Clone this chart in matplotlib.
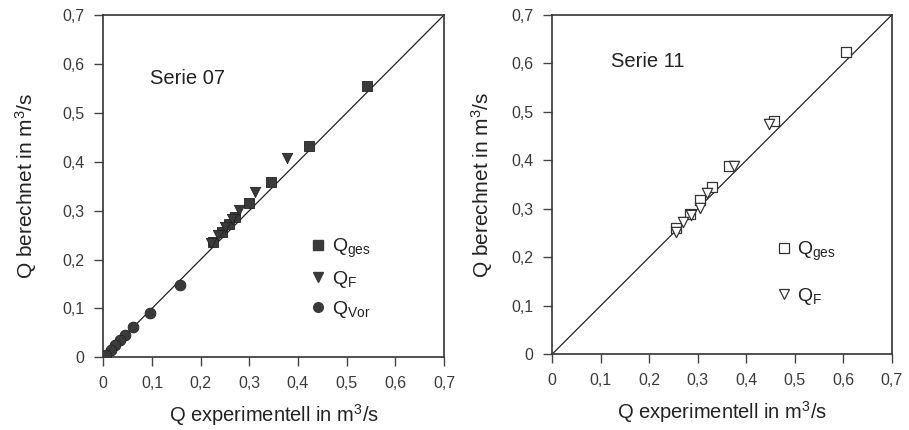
import matplotlib
matplotlib.use("Agg")
import matplotlib.pyplot as plt
from matplotlib.lines import Line2D

plt.rcParams['font.family'] = ['Liberation Sans', 'DejaVu Sans']
plt.rcParams['mathtext.fontset'] = 'custom'
plt.rcParams['mathtext.rm'] = 'Liberation Sans'
plt.rcParams['mathtext.it'] = 'Liberation Sans'

# ---- Serie 07 ----
s07_ges_x = [0.541, 0.422, 0.344, 0.300, 0.270, 0.258, 0.244, 0.226]
s07_ges_y = [0.555, 0.432, 0.358, 0.315, 0.287, 0.272, 0.257, 0.236]
s07_f_x = [0.377, 0.311, 0.279, 0.264, 0.250, 0.236, 0.222]
s07_f_y = [0.408, 0.339, 0.301, 0.283, 0.267, 0.250, 0.233]
s07_vor_x = [0.157, 0.095, 0.061, 0.044, 0.034, 0.025, 0.015, 0.006]
s07_vor_y = [0.147, 0.090, 0.061, 0.046, 0.035, 0.025, 0.015, 0.005]

# ---- Serie 11 ----
s11_ges_x = [0.605, 0.458, 0.364, 0.330, 0.305, 0.284, 0.256]
s11_ges_y = [0.623, 0.481, 0.388, 0.344, 0.318, 0.289, 0.261]
s11_f_x = [0.447, 0.375, 0.320, 0.305, 0.287, 0.270, 0.256]
s11_f_y = [0.475, 0.388, 0.332, 0.302, 0.287, 0.273, 0.251]

ticks = [0, 0.1, 0.2, 0.3, 0.4, 0.5, 0.6, 0.7]
tick_labels = ['0', '0,1', '0,2', '0,3', '0,4', '0,5', '0,6', '0,7']
xlabel = 'Q experimentell in m$^3$/s'
ylabel = 'Q berechnet in m$^3$/s'

W, H = 909, 430
fig = plt.figure(figsize=(W / 100, H / 100), dpi=100)
ax1 = fig.add_axes([103.3 / W, 72.7 / H, 340.7 / W, 342.3 / H])
ax2 = fig.add_axes([552.3 / W, 76.0 / H, 339.4 / W, 339.0 / H])

txtc = '#3a3a3a'
dark = '#3a3a3a'

for ax in (ax1, ax2):
    ax.set_xlim(0, 0.7)
    ax.set_ylim(0, 0.7)
    ax.plot([0, 0.7], [0, 0.7], color='#222222', lw=0.9, zorder=1)
    ax.set_xticks(ticks)
    ax.set_xticklabels(tick_labels)
    ax.set_yticks(ticks)
    ax.set_yticklabels(tick_labels)
    ax.tick_params(direction='out', length=6.5, width=1.0, colors='#444444',
                   labelcolor=txtc, labelsize=11.5, pad=7)
    for sp in ax.spines.values():
        sp.set_linewidth(1.2)
        sp.set_color('#333333')
    ax.set_xlabel(xlabel, fontsize=14.5, color='#222222', va='center')
    ax.set_ylabel(ylabel, fontsize=15, color='#222222')

ax1.xaxis.set_label_coords(0.5, -0.17)
ax1.yaxis.set_label_coords(-0.19, 0.5)
ax2.xaxis.set_label_coords(0.5, -0.17)
ax2.yaxis.set_label_coords(-0.168, 0.5)

# Serie 07
ax1.scatter(s07_ges_x, s07_ges_y, marker='s', s=48, color=dark, edgecolor='#222222', lw=0.6, zorder=3)
ax1.scatter(s07_f_x, s07_f_y, marker='v', s=55, color=dark, edgecolor='#222222', lw=0.6, zorder=3)
ax1.scatter(s07_vor_x, s07_vor_y, marker='o', s=60, color=dark, edgecolor='#222222', lw=0.6, zorder=3)
ax1.text(0.096, 0.571, 'Serie 07', fontsize=14.5, color='#222222', va='center', ha='left')

h1 = [Line2D([], [], ls='none', marker='s', ms=6.5, color=dark),
      Line2D([], [], ls='none', marker='v', ms=7, color=dark),
      Line2D([], [], ls='none', marker='o', ms=7, color=dark)]
ax1.legend(h1, ['Q$_{\\mathregular{ges}}$', 'Q$_{\\mathregular{F}}$', 'Q$_{\\mathregular{Vor}}$'],
           frameon=False, fontsize=14, loc='upper left', bbox_to_anchor=(0.58, 0.38),
           handlelength=0.8, handletextpad=0.3, labelspacing=0.45, borderpad=0,
           labelcolor='#222222')

# Serie 11
ax2.scatter(s11_ges_x, s11_ges_y, marker='s', s=55, facecolor='white', edgecolor='#333333', lw=0.9, zorder=3)
ax2.scatter(s11_f_x, s11_f_y, marker='v', s=55, facecolor='white', edgecolor='#333333', lw=0.9, zorder=4)
ax2.text(0.122, 0.605, 'Serie 11', fontsize=14.5, color='#222222', va='center', ha='left')

h2 = [Line2D([], [], ls='none', marker='s', ms=6.5, mfc='white', mec='#333333', mew=0.9),
      Line2D([], [], ls='none', marker='v', ms=7, mfc='white', mec='#333333', mew=0.9)]
ax2.legend(h2, ['Q$_{\\mathregular{ges}}$', 'Q$_{\\mathregular{F}}$'],
           frameon=False, fontsize=14, loc='upper left', bbox_to_anchor=(0.63, 0.367),
           handlelength=0.8, handletextpad=0.3, labelspacing=1.2, borderpad=0,
           labelcolor='#222222')

fig.savefig('out.png', dpi=100, facecolor='white')
